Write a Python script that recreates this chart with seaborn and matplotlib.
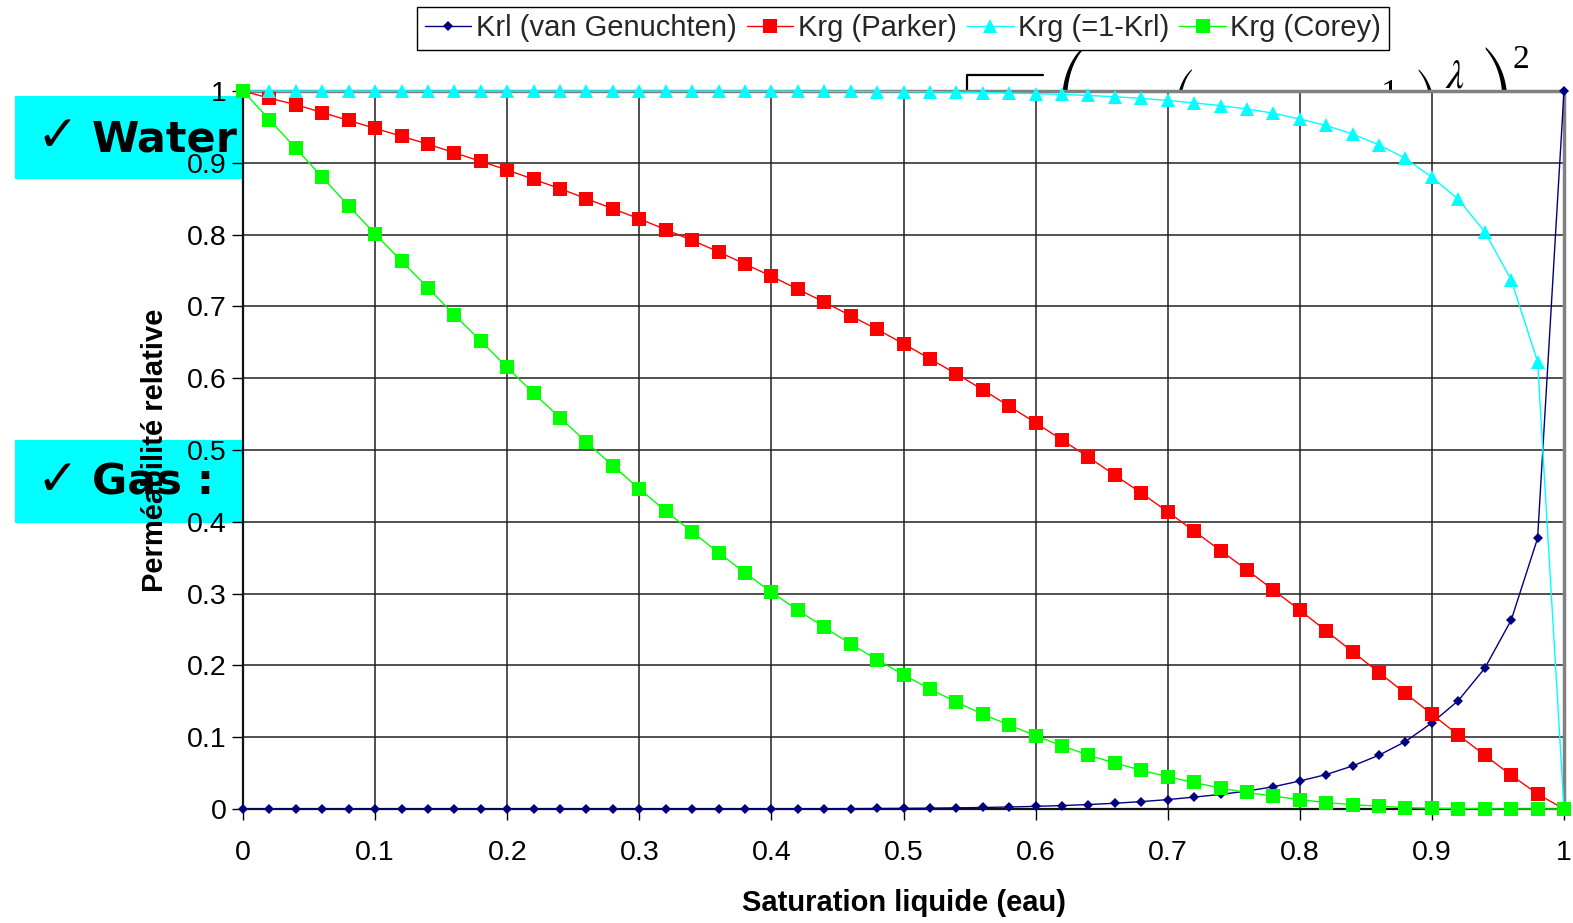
import matplotlib
matplotlib.use("Agg")
import matplotlib.pyplot as plt
from matplotlib.patches import Rectangle
from matplotlib.lines import Line2D
from matplotlib.ticker import FuncFormatter, MultipleLocator
import seaborn as sns

# Saturation grid (liquid / water saturation)
saturation = [0.00, 0.02, 0.04, 0.06, 0.08, 0.10, 0.12, 0.14, 0.16, 0.18,
              0.20, 0.22, 0.24, 0.26, 0.28, 0.30, 0.32, 0.34, 0.36, 0.38,
              0.40, 0.42, 0.44, 0.46, 0.48, 0.50, 0.52, 0.54, 0.56, 0.58,
              0.60, 0.62, 0.64, 0.66, 0.68, 0.70, 0.72, 0.74, 0.76, 0.78,
              0.80, 0.82, 0.84, 0.86, 0.88, 0.90, 0.92, 0.94, 0.96, 0.98, 1.00]

# Krl (van Genuchten)
krl_vg = [0, 0, 0, 0, 0, 0, 0, 0, 0, 0,
          0, 0, 0, 0, 0, 0, 0.0001, 0.0001, 0.0001, 0.0002,
          0.0002, 0.0003, 0.0004, 0.0005, 0.0007, 0.0009, 0.0012, 0.0016, 0.0021, 0.0028,
          0.0037, 0.0048, 0.0062, 0.008, 0.0103, 0.0131, 0.0166, 0.0203, 0.025, 0.031,
          0.039, 0.048, 0.060, 0.075, 0.094, 0.120, 0.151, 0.196, 0.263, 0.377, 1.0]

# Krg (Parker)
krg_parker = [1.0, 0.990, 0.981, 0.970, 0.959, 0.948, 0.937, 0.926, 0.914, 0.902,
              0.890, 0.877, 0.864, 0.850, 0.836, 0.822, 0.807, 0.792, 0.776, 0.759,
              0.742, 0.724, 0.706, 0.687, 0.668, 0.648, 0.627, 0.606, 0.584, 0.561,
              0.538, 0.514, 0.490, 0.465, 0.440, 0.414, 0.387, 0.360, 0.333, 0.305,
              0.277, 0.248, 0.219, 0.190, 0.161, 0.132, 0.103, 0.075, 0.047, 0.021, 0.0]

# Krg (=1-Krl)
krg_complement = [1.0, 1.0, 1.0, 1.0, 1.0, 1.0, 1.0, 1.0, 1.0, 1.0,
                  1.0, 1.0, 1.0, 1.0, 1.0, 1.0, 0.9999, 0.9999, 0.9999, 0.9998,
                  0.9998, 0.9997, 0.9996, 0.9995, 0.9993, 0.9991, 0.9988, 0.9984, 0.9979, 0.9972,
                  0.9963, 0.9952, 0.9938, 0.992, 0.9897, 0.9869, 0.9834, 0.9797, 0.975, 0.969,
                  0.961, 0.952, 0.940, 0.925, 0.906, 0.880, 0.849, 0.804, 0.737, 0.623, 0.0]

# Krg (Corey)
krg_corey = [1.0, 0.960, 0.920, 0.880, 0.840, 0.801, 0.763, 0.726, 0.688, 0.652,
             0.615, 0.579, 0.545, 0.511, 0.478, 0.446, 0.415, 0.386, 0.357, 0.329,
             0.302, 0.277, 0.253, 0.230, 0.208, 0.187, 0.167, 0.149, 0.132, 0.117,
             0.102, 0.088, 0.075, 0.064, 0.054, 0.045, 0.037, 0.029, 0.023, 0.018,
             0.013, 0.009, 0.006, 0.004, 0.002, 0.001, 0.0005, 0.0002, 0.0001, 0.0, 0.0]

series_labels = ["Krl (van Genuchten)", "Krg (Parker)", "Krg (=1-Krl)", "Krg (Corey)"]
x_label = "Saturation liquide (eau)"
y_label = "Perméabilité relative"

sns.set_theme(style="white")
plt.rcParams["font.family"] = ["Liberation Sans", "DejaVu Sans"]

W, H = 1573, 923
fig = plt.figure(figsize=(W / 100, H / 100), dpi=100)
fig.patch.set_facecolor("white")


def fx(px):
    return px / W


def fy(py):
    return 1 - py / H


ax = fig.add_axes([fx(243), fy(809), fx(1564) - fx(243), fy(91) - fy(809)])
ax.set_facecolor("white")

styles = [
    (krl_vg, "#000080", "D", 5.5),
    (krg_parker, "#FF0000", "s", 10),
    (krg_complement, "#00FFFF", "^", 10.5),
    (krg_corey, "#00FF00", "s", 10),
]
for (vals, color, marker, ms), label in zip(styles, series_labels):
    sns.lineplot(x=saturation, y=vals, ax=ax, color=color, marker=marker,
                 markersize=ms, markeredgewidth=0, linewidth=1,
                 label=label, clip_on=False, zorder=3)

ax.set_xlim(0, 1)
ax.set_ylim(0, 1)
ax.xaxis.set_major_locator(MultipleLocator(0.1))
ax.yaxis.set_major_locator(MultipleLocator(0.1))
fmt = FuncFormatter(lambda v, pos: f"{v:g}")
ax.xaxis.set_major_formatter(fmt)
ax.yaxis.set_major_formatter(fmt)
ax.grid(True, color="#222222", linewidth=1.1)
ax.set_axisbelow(True)

ax.tick_params(axis="x", bottom=True, length=8, width=1, pad=14,
               labelsize=20.5, colors="black", direction="out")
ax.tick_params(axis="y", left=True, length=8, width=1, pad=4,
               labelsize=20.5, colors="black", direction="out")

for side in ("left", "bottom"):
    ax.spines[side].set_color("#111111")
    ax.spines[side].set_linewidth(1.6)
for side in ("top", "right"):
    ax.spines[side].set_color("#808080")
    ax.spines[side].set_linewidth(2.5)

ax.set_xlabel(x_label, fontsize=21, fontweight="bold", color="black")
ax.set_ylabel(y_label, fontsize=21, fontweight="bold", color="black")
ax.xaxis.set_label_coords(0.5, (809 - 889) / 718)
ax.yaxis.set_label_coords((169 - 243) / 1321, 0.5)

handles, labels = ax.get_legend_handles_labels()
ax.get_legend().remove()
leg = fig.legend(handles, labels, loc="upper center",
                 bbox_to_anchor=(fx(903), fy(7)), ncol=4, frameon=True,
                 fancybox=False, edgecolor="black", framealpha=1,
                 fontsize=21, handlelength=1.6, handletextpad=0.15,
                 columnspacing=0.35, borderpad=0.25, borderaxespad=0,
                 numpoints=1)
leg.get_frame().set_linewidth(1)

# Highlighted bullet boxes sitting behind the plotting area
for top, word in ((96, "Water"), (440, "Gas :")):
    fig.add_artist(Rectangle((fx(15), fy(top + 83)), fx(243) - fx(15), 83 / H,
                             transform=fig.transFigure, facecolor="#00FFFF",
                             edgecolor="none", zorder=-3))
    fig.text(fx(36), fy(top + 55), "✓", fontsize=36,
             family=["DejaVu Sans"], color="black", va="baseline",
             ha="left", zorder=-2)
    fig.text(fx(92), fy(top + 55), word, fontsize=31, fontweight="bold",
             family=["DejaVu Sans"], color="black", va="baseline",
             ha="left", zorder=-2)

# Formula fragments peeking above the plotting area
fig.add_artist(Line2D([fx(967), fx(967), fx(1043)], [fy(95), fy(75), fy(75)],
                      transform=fig.transFigure, color="black",
                      linewidth=1.6, zorder=-2))
big_delim = ["STIXSizeThreeSym", "DejaVu Serif"]
mid_delim = ["STIXSizeTwoSym", "DejaVu Serif"]
serif = ["Liberation Serif", "DejaVu Serif"]
pieces = [
    ("(", 1054, 48, 32, big_delim),
    ("(", 1170, 70, 30, mid_delim),
    ("1", 1381, 79, 26, serif),
    (")", 1413, 70, 30, mid_delim),
    (")", 1481, 48, 32, big_delim),
    ("2", 1512, 45, 24, serif),
]
for s, px, py, size, fam in pieces:
    fig.text(fx(px), fy(py), s, fontsize=size, family=fam, color="black",
             ha="left", va="top", zorder=-2)
fig.text(fx(1445), fy(58), r"$\lambda$", fontsize=29, math_fontfamily="stix",
         color="black", ha="left", va="top", zorder=-2)

fig.savefig("out.png", dpi=100, facecolor="white")
